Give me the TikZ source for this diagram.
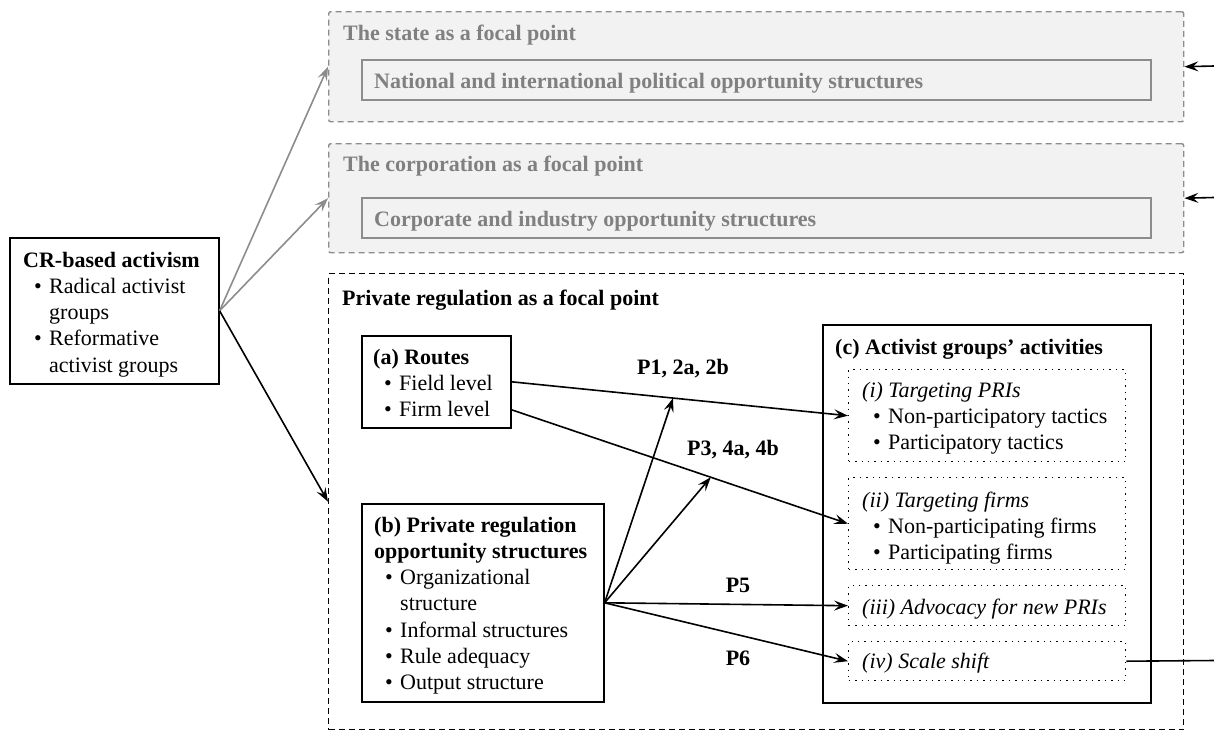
\documentclass[tikz,border=0pt]{standalone}
\usepackage{fontspec}
\setmainfont{Liberation Serif}
\usetikzlibrary{arrows.meta,calc}
\definecolor{gtext}{RGB}{128,128,128}
\definecolor{gfill}{RGB}{242,242,242}
\definecolor{gline}{RGB}{140,140,140}
\newcommand\bl{\hspace*{11pt}\makebox[15pt][l]{\textbullet}}
\newcommand\tp{\rule{0pt}{16pt}}
\begin{document}
\begin{tikzpicture}[x=1pt,y=-1pt,
  box/.style={draw, line width=1.6pt, anchor=north west, inner sep=0pt, rectangle},
  gbox/.style={draw=gline, fill=gfill, line width=1.4pt, dash pattern=on 6pt off 4pt, rounded corners=2pt, anchor=north west, inner sep=0pt, rectangle},
  gin/.style={draw=gline, line width=1.6pt, anchor=north west, inner sep=0pt, rectangle},
  pbox/.style={draw, line width=1.4pt, dash pattern=on 6pt off 4pt, anchor=north west, inner sep=0pt, rectangle},
  dbox/.style={draw, line width=1.4pt, dash pattern=on 1.4pt off 5pt, anchor=north west, inner sep=0pt, rectangle},
  txt/.style={anchor=north west, inner sep=0pt, align=left, font=\fontsize{22}{26.2}\selectfont},
  gtxt/.style={txt, text=gtext},
  lbl/.style={inner sep=0pt, anchor=center, font=\fontsize{22}{26}\selectfont\bfseries},
  bar/.style={line width=1.6pt, -{Stealth[length=14pt,width=10pt,inset=5.5pt]}},
  gar/.style={bar, draw=gline},
  bline/.style={line width=1.6pt}]
\useasboundingbox (0,0) rectangle (1214,731);

% CR-based activism
\node[box, minimum width=209pt, minimum height=146pt] (cr) at (9,237) {};
\node[txt] (crt) at (23,251) {\tp\textbf{CR-based activism}\\\bl Radical activist\\\hspace*{26pt}groups\\\bl Reformative\\\hspace*{26pt}activist groups};

% state
\node[gbox, minimum width=855pt, minimum height=110pt] (g1) at (328,11) {};
\node[gin, minimum width=789pt, minimum height=40pt] (g1in) at (361,59) {};
\node[gtxt] (g1t) at (343,24) {\tp\textbf{The state as a focal point}};
\node[gtxt] (g1int) at (374,72) {\tp\textbf{National and international political opportunity structures}};

% corporation
\node[gbox, minimum width=855pt, minimum height=109pt] (g2) at (328,143) {};
\node[gin, minimum width=789pt, minimum height=40pt] (g2in) at (361,197) {};
\node[gtxt] (g2t) at (343,155) {\tp\textbf{The corporation as a focal point}};
\node[gtxt] (g2int) at (374,210) {\tp\textbf{Corporate and industry opportunity structures}};

% private regulation
\node[pbox, minimum width=855pt, minimum height=456pt] (pr) at (328,273) {};
\node[txt] (prt) at (342,289) {\tp\textbf{Private regulation as a focal point}};

\node[box, minimum width=149pt, minimum height=92pt] (ra) at (361,335) {};
\node[txt] (rat) at (373,348) {\tp\textbf{(a) Routes}\\\bl Field level\\\bl Firm level};

\node[box, minimum width=242pt, minimum height=198pt] (rb) at (361,503) {};
\node[txt] (rbt) at (374,516) {\tp\textbf{(b) Private regulation}\\\textbf{opportunity structures}\\\bl Organizational\\\hspace*{26pt}structure\\\bl Informal structures\\\bl Rule adequacy\\\bl Output structure};

\node[box, minimum width=328pt, minimum height=378pt] (rc) at (822,324) {};
\node[txt] (rct) at (835,338) {\tp\textbf{(c) Activist groups’ activities}};

\node[dbox, minimum width=277pt, minimum height=92pt] (ci) at (848,369) {};
\node[txt] (cit) at (862,381) {\tp\textit{(i) Targeting PRIs}\\\bl Non-participatory tactics\\\bl Participatory tactics};

\node[dbox, minimum width=277pt, minimum height=92pt] (cii) at (848,477) {};
\node[txt] (ciit) at (862,491) {\tp\textit{(ii) Targeting firms}\\\bl Non-participating firms\\\bl Participating firms};

\node[dbox, minimum width=277pt, minimum height=40pt] (ciii) at (848,585) {};
\node[txt] (ciiit) at (862,598) {\tp\textit{(iii) Advocacy for new PRIs}};

\node[dbox, minimum width=277pt, minimum height=39pt] (civ) at (848,641) {};
\node[txt] (civt) at (862,652) {\tp\textit{(iv) Scale shift}};

% labels
\node[lbl] (p1) at (683,369) {P1, 2a, 2b};
\node[lbl] (p3) at (733,450) {P3, 4a, 4b};
\node[lbl] (p5) at (738,585) {P5};
\node[lbl] (p6) at (738,658) {P6};

% connectors
\coordinate (e1) at (1214,66);
\coordinate (e2) at (1214,197.5);
\coordinate (e3) at (1214,660.5);
\draw[gar] (cr.east) -- (g1.west);
\draw[gar] (cr.east) -- (g2.west);
\draw[bar] (cr.east) -- (pr.west);
\draw[bar] (e1) -- (g1.east);
\draw[bar] (e2) -- (g2.east);
\draw[bline] (civ.east) -- (e3);

\coordinate (rf) at ($(ra.east)+(0,28)$);
\draw[bar] (ra.east) -- (ci.west);
\draw[bar] (rf) -- (cii.west);
\coordinate (m1) at ($(ra.east)!0.48!(ci.west)$);
\coordinate (m2) at ($(rf)!0.592!(cii.west)$);
\draw[bar] (rb.east) -- (m1);
\draw[bar] (rb.east) -- (m2);
\draw[bar] (rb.east) -- (ciii.west);
\draw[bar] (rb.east) -- (civ.west);
\end{tikzpicture}
\end{document}
